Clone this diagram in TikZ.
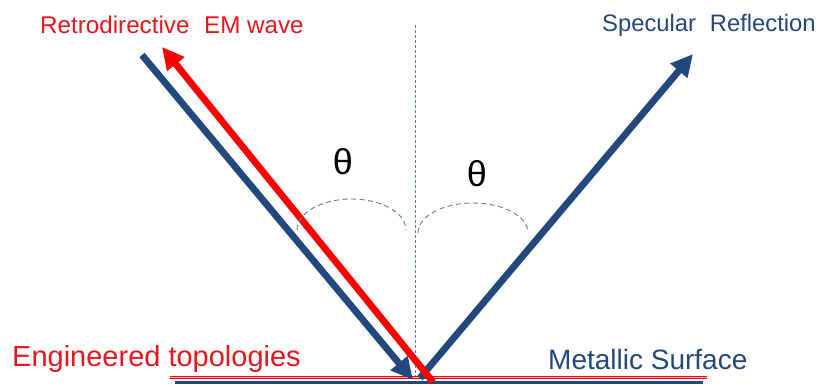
\documentclass[tikz,border=0pt]{standalone}
\usepackage{fontspec}
\setmainfont{Liberation Sans}
\usetikzlibrary{arrows.meta}
\definecolor{dblue}{RGB}{35,72,124}
\definecolor{tred}{RGB}{228,24,28}
\definecolor{arcblue}{RGB}{95,125,165}
\tikzset{
  ray/.style={line width=6.8pt},
  bluearrow/.style={ray, draw=dblue, -{Triangle[length=22pt,width=21pt]}},
  redarrow/.style={ray, draw=red, -{Triangle[length=22pt,width=21pt]}},
  lbl/.style={inner sep=0pt, anchor=base west},
  arcline/.style={draw=arcblue, line width=0.9pt, dash pattern=on 5pt off 3.5pt},
}
\begin{document}
\begin{tikzpicture}[x=1pt,y=-1pt]
\useasboundingbox (0,0) rectangle (819,386);
% coordinates
\coordinate (bl0) at (142,55);
\coordinate (bl1) at (413,380);
\coordinate (rd0) at (433,382);
\coordinate (rd1) at (162,47);
\coordinate (br0) at (420,378);
\coordinate (br1) at (693,54);
\coordinate (vt) at (415,25);
\coordinate (vb) at (415,378);
% normal
\draw[draw=arcblue, line width=0.6pt, dash pattern=on 3pt off 2pt] (vt) -- (vb);
% surfaces
\draw[draw=red, line width=0.8pt, double=white!70!red, double distance=0.9pt] (170,377.5) coordinate (es0) -- (707,377.5) coordinate (es1);
\draw[draw=dblue, line width=3.8pt] (175,382.5) coordinate (ms0) -- (703,382.5) coordinate (ms1);
% rays
\draw[bluearrow] (bl0) -- (bl1);
\draw[bluearrow] (br0) -- (br1);
\draw[redarrow] (rd0) -- (rd1);
% arcs
\draw[arcline] (297,230) arc[start angle=180, end angle=0, x radius=54.5pt, y radius=31pt];
\draw[arcline] (418,233) arc[start angle=180, end angle=0, x radius=55pt, y radius=30pt];
% labels
\node[lbl, text=tred, font=\fontsize{24.2}{28}\selectfont] (rt) at (40,33) {Retrodirective\hspace{0.33em} EM wave};
\node[lbl, text=dblue, font=\fontsize{23.8}{28}\selectfont] (sr) at (602,31) {Specular\hspace{0.3em} Reflection};
\node[lbl, text=tred, font=\fontsize{29}{32}\selectfont] (et) at (12,366) {Engineered topologies};
\node[lbl, text=dblue, font=\fontsize{28}{32}\selectfont] (mt) at (548,369) {Metallic Surface};
\node[text=black, font=\fontsize{36}{40}\selectfont, inner sep=0pt] (t1) at (343,162) {θ};
\node[text=black, font=\fontsize{36}{40}\selectfont, inner sep=0pt] (t2) at (477,174) {θ};
\end{tikzpicture}
\end{document}
